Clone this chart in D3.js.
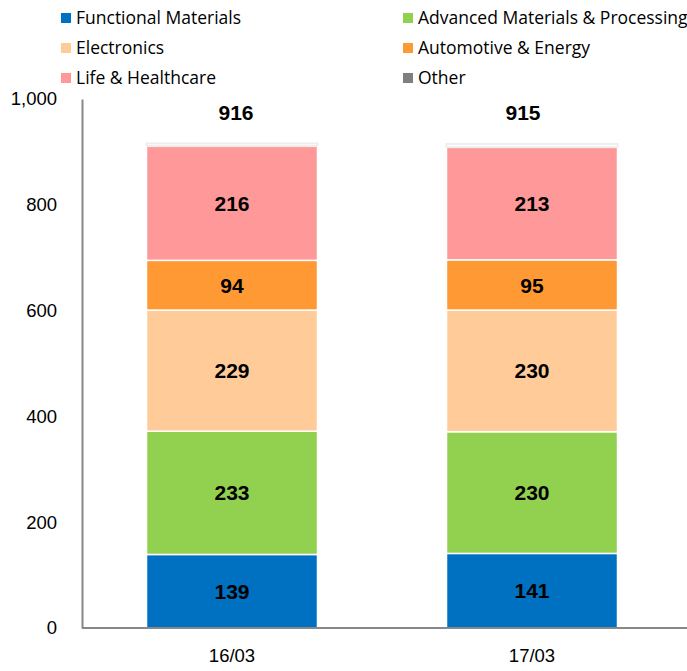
<!DOCTYPE html>
<html>
<head>
<meta charset="utf-8">
<script src="https://cdn.jsdelivr.net/npm/d3@7"></script>
<style>
  html, body { margin: 0; padding: 0; background: #fff; }
  svg { display: block; }
</style>
</head>
<body>
<svg id="chart" width="687" height="671"></svg>
<script>
// Segment sales by fiscal period (stacked)
const periods = ["16/03", "17/03"];
const segments = ["Functional Materials", "Advanced Materials & Processing", "Electronics",
                  "Automotive & Energy", "Life & Healthcare", "Other"];
const functionalMaterials = [139, 141];
const advancedMaterials   = [233, 230];
const electronics         = [229, 230];
const automotiveEnergy    = [94, 95];
const lifeHealthcare      = [216, 213];
const other               = [5, 6];
const totals              = [916, 915];
const yTicks              = [0, 200, 400, 600, 800, 1000];

const colors = ["#0070c0", "#92d050", "#ffcc99", "#ff9933", "#ff9999", "#7f7f7f"];
const barFills = ["#0070c0", "#92d050", "#ffcc99", "#ff9933", "#ff9999", "#ffffff"];

const seriesValues = [functionalMaterials, advancedMaterials, electronics,
                      automotiveEnergy, lifeHealthcare, other];

const rows = periods.map((p, i) => {
  const r = { period: p };
  segments.forEach((s, k) => { r[s] = seriesValues[k][i]; });
  return r;
});

const svg = d3.select("#chart");

const x = d3.scaleBand().domain(periods).range([82, 682])
  .paddingInner(0.43).paddingOuter(0.215);
const y = d3.scaleLinear().domain([0, 1000]).range([628, 99]);

const stack = d3.stack().keys(segments)(rows);

// Bars
const layers = svg.append("g").selectAll("g").data(stack).join("g");
layers.each(function(layer, k) {
  d3.select(this).selectAll("rect").data(layer).join("rect")
    .attr("x", d => x(d.data.period))
    .attr("width", x.bandwidth())
    .attr("y", d => y(d[1]))
    .attr("height", d => y(d[0]) - y(d[1]))
    .attr("fill", barFills[k])
    .attr("stroke", k === 5 ? "#eeeeee" : "#ffffff")
    .attr("stroke-width", k === 5 ? 2 : 1.5);
});

const labelFont = "Liberation Sans, Arial, sans-serif";

// Segment value labels (not for "Other")
stack.slice(0, 5).forEach(layer => {
  svg.append("g").selectAll("text").data(layer).join("text")
    .attr("x", d => x(d.data.period) + x.bandwidth() / 2)
    .attr("y", d => (y(d[0]) + y(d[1])) / 2)
    .attr("dy", "0.36em")
    .attr("text-anchor", "middle")
    .attr("font-family", labelFont)
    .attr("font-weight", "bold")
    .attr("font-size", 21)
    .attr("fill", "#000")
    .text(d => d[1] - d[0]);
});

// Totals above bars
svg.append("g").selectAll("text").data(periods).join("text")
  .attr("x", (p, i) => x(p) + x.bandwidth() / 2 + (i === 0 ? 4 : -9))
  .attr("y", 112)
  .attr("dy", "0.36em")
  .attr("text-anchor", "middle")
  .attr("font-family", labelFont)
  .attr("font-weight", "bold")
  .attr("font-size", 21)
  .attr("fill", "#000")
  .text((p, i) => totals[i]);

// Y axis
const yAxis = svg.append("g").attr("transform", "translate(82,0)")
  .call(d3.axisLeft(y).tickValues(yTicks).tickSize(0).tickPadding(25)
    .tickFormat(d3.format(",")));
yAxis.select(".domain").attr("stroke", "#888").attr("stroke-width", 2);
yAxis.selectAll("text")
  .attr("font-family", labelFont)
  .attr("font-size", 18.5).attr("fill", "#000");

// X axis
const xAxis = svg.append("g").attr("transform", "translate(0,628)")
  .call(d3.axisBottom(x).tickSize(0).tickPadding(21));
xAxis.select(".domain").attr("d", "M82,0H687").attr("stroke", "#888").attr("stroke-width", 2);
xAxis.selectAll("text")
  .attr("font-family", labelFont)
  .attr("font-size", 18.5).attr("fill", "#000");

// Legend
const legend = svg.append("g");
const legendPos = [[61, 18], [403, 18], [61, 48], [403, 48], [61, 78], [403, 78]];
segments.forEach((s, k) => {
  const [lx, ly] = legendPos[k];
  legend.append("rect").attr("x", lx).attr("y", ly - 5).attr("width", 10).attr("height", 10)
    .attr("fill", colors[k]);
  legend.append("text").attr("x", lx + 15).attr("y", ly).attr("dy", "0.35em")
    .attr("font-family", "Open Sans, sans-serif")
    .attr("font-size", 17.5).attr("fill", "#000")
    .text(s);
});
</script>
</body>
</html>
